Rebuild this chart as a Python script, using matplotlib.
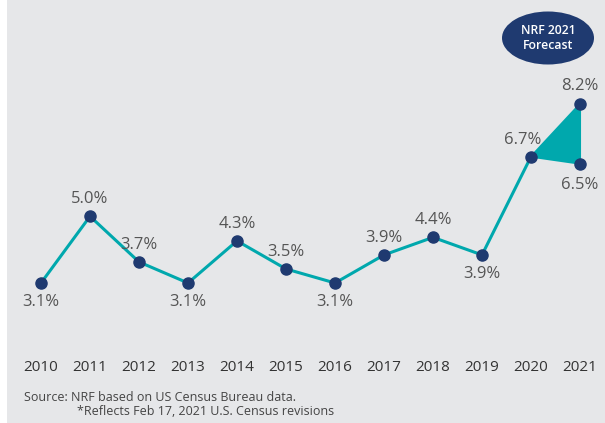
import matplotlib
matplotlib.use("Agg")
import matplotlib.pyplot as plt
from matplotlib.patches import Ellipse, Polygon, Rectangle

years = [2010, 2011, 2012, 2013, 2014, 2015, 2016, 2017, 2018, 2019, 2020]
growth = [3.1, 5.0, 3.7, 3.1, 4.3, 3.5, 3.1, 3.9, 4.4, 3.9, 6.7]
forecast_year = 2021
forecast_low = 6.5
forecast_high = 8.2
label_above = [False, True, True, False, True, True, False, True, True, False, True]
year_labels = [str(y) for y in years + [forecast_year]]

TEAL = "#00a8ad"
NAVY = "#1f3a70"
BG = "#e6e7e9"
TXT = "#555555"

W, H = 605, 423
fig = plt.figure(figsize=(W / 100, H / 100), dpi=100)
fig.patch.set_facecolor(BG)
fig.patches.append(Rectangle((0, 0), 7 / W, 1, transform=fig.transFigure,
                             facecolor="white", edgecolor="none", zorder=0))

ax = fig.add_axes([0, 0, 1, 1])
ax.set_facecolor("none")
ax.axis("off")

# pixel-based scale: 49 px per year, ~35.1 px per percentage point
px_year, px_pct = 49.0, 35.1
x0_px, y0_px = 41.0, 283.0
ax.set_xlim(2010 - x0_px / px_year, 2010 + (W - x0_px) / px_year)
ax.set_ylim(3.1 - (H - y0_px) / px_pct, 3.1 + y0_px / px_pct)

# forecast range wedge
ax.add_patch(Polygon([(years[-1], growth[-1]), (forecast_year, forecast_high),
                      (forecast_year, forecast_low)], closed=True,
                     facecolor=TEAL, edgecolor=TEAL, linewidth=1.5, zorder=2))

ax.plot(years, growth, color=TEAL, lw=2.2, zorder=3)
ax.plot(years + [forecast_year, forecast_year],
        growth + [forecast_high, forecast_low],
        linestyle="none", marker="o", ms=8, color=NAVY, zorder=4)

LBL = 12
up = 17 / px_pct
down = 19 / px_pct
for x, v, a in zip(years, growth, label_above):
    dx = -0.16 if x == 2020 else 0
    ax.text(x + dx, v + up if a else v - down, f"{v:.1f}%", ha="center",
            va="center", fontsize=LBL, color=TXT, family="Open Sans")
ax.text(forecast_year, forecast_high + 18 / px_pct, f"{forecast_high:.1f}%",
        ha="center", va="center", fontsize=LBL, color=TXT, family="Open Sans")
ax.text(forecast_year, forecast_low - 21 / px_pct, f"{forecast_low:.1f}%",
        ha="center", va="center", fontsize=LBL, color=TXT, family="Open Sans")

# year axis labels
y_year = 3.1 - (367 - y0_px) / px_pct
for x, lab in zip(years + [forecast_year], year_labels):
    ax.text(x, y_year, lab, ha="center", va="center", fontsize=11,
            color="#333333", family="Open Sans")

# forecast badge
ex = 2010 + (548 - x0_px) / px_year
ey = 3.1 + (y0_px - 38) / px_pct
ax.add_patch(Ellipse((ex, ey), 92 / px_year, 53 / px_pct, facecolor=NAVY,
                     edgecolor="none", zorder=5))
ax.text(ex, ey, "NRF 2021\nForecast", ha="center", va="center", fontsize=8.8,
        color="white", fontweight="semibold", family="Open Sans",
        linespacing=1.25, zorder=6)

fig.text(24 / W, 1 - 397 / H, "Source: NRF based on US Census Bureau data.",
         ha="left", va="center", fontsize=9, color="#444444", family="Open Sans")
fig.text(77 / W, 1 - 411 / H, "*Reflects Feb 17, 2021 U.S. Census revisions",
         ha="left", va="center", fontsize=9, color="#444444", family="Open Sans")

fig.savefig("out.png", dpi=100, facecolor=fig.get_facecolor())
